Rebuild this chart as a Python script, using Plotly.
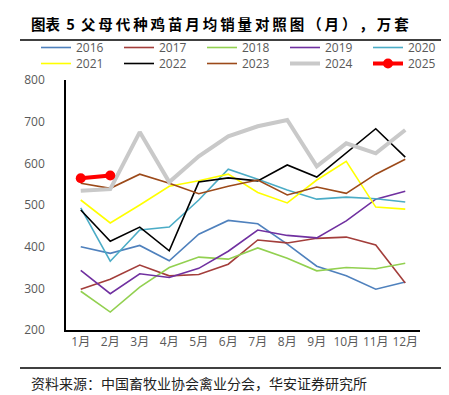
import plotly.graph_objects as go

months = ["1月", "2月", "3月", "4月", "5月", "6月", "7月", "8月", "9月", "10月", "11月", "12月"]

s2016 = [400, 384, 403, 366, 430, 463, 455, 406, 353, 330, 298, 315]
s2017 = [298, 322, 356, 330, 333, 358, 416, 409, 420, 423, 404, 313]
s2018 = [293, 243, 303, 350, 375, 370, 397, 372, 342, 350, 347, 360]
s2019 = [343, 287, 335, 326, 348, 389, 440, 427, 421, 462, 514, 533]
s2020 = [493, 365, 440, 447, 512, 586, 562, 536, 514, 519, 515, 507]
s2021 = [512, 457, 500, 545, 558, 574, 530, 505, 560, 605, 495, 490]
s2022 = [488, 413, 447, 390, 555, 565, 558, 596, 567, 624, 683, 615]
s2023 = [552, 540, 574, 552, 527, 545, 560, 524, 543, 528, 574, 610]
s2024 = [534, 538, 675, 555, 617, 665, 689, 704, 593, 648, 624, 680]
s2025 = [564, 571]

series = [
    ("2016", s2016, "#4F81BD", 1.6),
    ("2017", s2017, "#A33E3B", 1.6),
    ("2018", s2018, "#92D050", 1.6),
    ("2019", s2019, "#7030A0", 1.6),
    ("2020", s2020, "#4BACC6", 1.6),
    ("2021", s2021, "#FFFF00", 1.6),
    ("2022", s2022, "#000000", 1.6),
    ("2023", s2023, "#9C4A1A", 1.6),
    ("2024", s2024, "#C9C9C9", 4),
]

title_text = "图表 5 父母代种鸡苗月均销量对照图（月），万套"
source_text = "资料来源：中国畜牧业协会禽业分会，华安证券研究所"

W, H = 449, 395
L, R, T, B = 58, 37, 72, 73
PW, PH = W - L - R, H - T - B

def px(x):
    return (x - L) / PW

def py(y):
    return (H - B - y) / PH

def spaced(s, sp="\u2009"):
    return sp.join(list(s.replace(" ", "")))

fig = go.Figure()
for i, (name, vals, col, w) in enumerate(series):
    fig.add_trace(go.Scatter(x=months[:len(vals)], y=vals, name=name, mode="lines",
                             line=dict(color=col, width=w),
                             legend="legend" if i < 5 else "legend2"))
fig.add_trace(go.Scatter(x=months[:len(s2025)], y=s2025, name="2025", mode="lines+markers",
                         line=dict(color="#FF0000", width=4),
                         marker=dict(color="#FF0000", size=10), legend="legend2"))

font_cjk = "Noto Sans CJK SC"
tick_font = dict(family="Open Sans, Noto Sans CJK SC", size=12, color="#595959")

leg_common = dict(orientation="h", xanchor="left", yanchor="top",
                  entrywidth=38, entrywidthmode="pixels",
                  font=dict(family="Open Sans", size=12, color="#595959"),
                  bgcolor="rgba(0,0,0,0)", tracegroupgap=0, itemwidth=30)

fig.update_layout(
    width=W, height=H,
    margin=dict(l=L, r=R, t=T, b=B, autoexpand=False),
    paper_bgcolor="white", plot_bgcolor="white",
    showlegend=True,
    legend=dict(x=px(28), y=py(25), **leg_common),
    legend2=dict(x=px(28), y=py(41), **leg_common),
    xaxis=dict(type="category", range=[-0.5, 11.5], showline=True, linecolor="black",
               linewidth=1.5, showgrid=False, ticks="", tickfont=tick_font, zeroline=False),
    yaxis=dict(range=[200, 800], dtick=100, showline=True, linecolor="black", linewidth=1.5,
               showgrid=False, ticks="", tickfont=tick_font, zeroline=False,
               ticklabelstandoff=17),
)

# header / footer rules
fig.add_shape(type="line", xref="paper", yref="paper", x0=px(12), x1=px(449), y0=py(32), y1=py(32),
              line=dict(color="black", width=1.5))
fig.add_shape(type="line", xref="paper", yref="paper", x0=px(12), x1=px(449), y0=py(360), y1=py(360),
              line=dict(color="black", width=1.5))

fig.add_annotation(text="<b>图表\u2009 5 \u2009" + spaced(title_text[5:]) + "</b>", xref="paper", yref="paper",
                   x=px(21), y=py(15), xanchor="left", yanchor="middle", showarrow=False,
                   font=dict(family=font_cjk, size=14.5, color="black"))
fig.add_annotation(text="<b>图</b>", xref="paper", yref="paper",
                   x=px(432), y=py(15), xanchor="left", yanchor="middle", showarrow=False,
                   font=dict(family=font_cjk, size=14.5, color="black"))
fig.add_annotation(text=source_text, xref="paper", yref="paper",
                   x=px(21), y=py(375), xanchor="left", yanchor="middle", showarrow=False,
                   font=dict(family=font_cjk, size=14, color="#222222"))
fig.add_annotation(text="资", xref="paper", yref="paper",
                   x=px(435), y=py(375), xanchor="left", yanchor="middle", showarrow=False,
                   font=dict(family=font_cjk, size=14, color="#222222"))

# partially visible neighbouring chart axis labels
right_labels = ["22", "17", "12", "7", "2"]
right_ys = [86, 146, 205, 265, 324]
for lab, yy in zip(right_labels, right_ys):
    fig.add_annotation(text=lab, xref="paper", yref="paper", x=px(452), y=py(yy),
                       xanchor="right", yanchor="middle", showarrow=False,
                       font=dict(family="Open Sans", size=12, color="#333333"))

fig.write_html("out.html")
